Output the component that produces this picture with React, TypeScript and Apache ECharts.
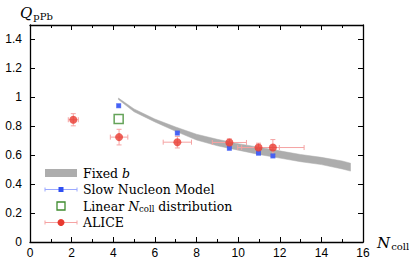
import React, { useEffect, useRef } from "react";
import * as echarts from "echarts";

const bandX = [4.25, 5, 6, 7, 8, 9, 10, 11, 12, 13, 14, 15, 15.4];
const bandLo = [0.985, 0.9, 0.83, 0.765, 0.705, 0.665, 0.635, 0.605, 0.58, 0.555, 0.535, 0.505, 0.49];
const bandHi = [0.995, 0.92, 0.85, 0.795, 0.745, 0.71, 0.68, 0.655, 0.63, 0.605, 0.585, 0.56, 0.545];

const aliceX = [2.08, 4.28, 7.08, 9.58, 10.98, 11.67];
const aliceY = [0.845, 0.725, 0.69, 0.688, 0.653, 0.653];
const aliceXErr = [0.24, 0.42, 0.68, 0.82, 1.0, 1.5];
const aliceYErr = [0.042, 0.054, 0.04, 0.025, 0.03, 0.055];

const snmX = [4.26, 7.08, 9.58, 10.98, 11.67];
const snmY = [0.942, 0.753, 0.648, 0.614, 0.595];
const snmXErr = [0.05, 0.05, 0.05, 0.05, 0.05];
const snmYErr = [0.008, 0.01, 0.01, 0.01, 0.01];

const linX = [4.26];
const linY = [0.85];

const yTicks = [0, 0.2, 0.4, 0.6, 0.8, 1, 1.2, 1.4];

const serif = "'DejaVu Serif', 'Liberation Serif', serif";
const sans = "'Liberation Sans', Arial, sans-serif";

function errRender(color: string, cap: number) {
  return (params: any, api: any) => {
    const x = api.value(0), y = api.value(1), ex = api.value(2), ey = api.value(3);
    const l = api.coord([x - ex, y]);
    const r = api.coord([x + ex, y]);
    const t = api.coord([x, y + ey]);
    const b = api.coord([x, y - ey]);
    const st = { stroke: color, lineWidth: 1 };
    return {
      type: "group",
      children: [
        { type: "line", shape: { x1: l[0], y1: l[1], x2: r[0], y2: r[1] }, style: st },
        { type: "line", shape: { x1: t[0], y1: t[1], x2: b[0], y2: b[1] }, style: st },
        { type: "line", shape: { x1: l[0], y1: l[1] - cap, x2: l[0], y2: l[1] + cap }, style: st },
        { type: "line", shape: { x1: r[0], y1: r[1] - cap, x2: r[0], y2: r[1] + cap }, style: st },
        { type: "line", shape: { x1: t[0] - cap, y1: t[1], x2: t[0] + cap, y2: t[1] }, style: st },
        { type: "line", shape: { x1: b[0] - cap, y1: b[1], x2: b[0] + cap, y2: b[1] }, style: st },
      ],
    };
  };
}

function bandRender(params: any, api: any) {
  const top = bandX.map((x, i) => api.coord([x, bandHi[i]]));
  const bot = bandX.map((x, i) => api.coord([x, bandLo[i]])).reverse();
  return {
    type: "polygon",
    shape: { points: top.concat(bot) },
    style: { fill: "#adadad", stroke: "#adadad", lineWidth: 0.5 },
  };
}

export default function App() {
  const ref = useRef<HTMLDivElement>(null);
  useEffect(() => {
    const chart = echarts.init(ref.current!, null, { renderer: "svg" });
    const axisCommon = {
      type: "value" as const,
      axisLine: { show: true, onZero: false, lineStyle: { color: "#000", width: 1.3 } },
      axisTick: { show: true, inside: true, length: 5, lineStyle: { color: "#000", width: 1 } },
      minorTick: { show: true, splitNumber: 2, length: 3, lineStyle: { color: "#000", width: 1 } },
      splitLine: { show: false },
    };
    const legendY = [173, 189.5, 206, 222.5];
    const lx1 = 45, lx2 = 77, lxm = 61, tx = 83;
    const fs = 12.5;
    chart.setOption({
      animation: false,
      grid: { left: 30, right: 46, top: 25, bottom: 19 },
      xAxis: [
        {
          ...axisCommon,
          min: 0, max: 16, interval: 2,
          axisLabel: { show: true, color: "#000", fontFamily: sans, fontSize: 12, margin: 5 },
        },
        {
          ...axisCommon, position: "top",
          min: 0, max: 16, interval: 2,
          axisLabel: { show: false },
        },
      ],
      yAxis: [
        {
          ...axisCommon,
          min: 0, max: 1.5, interval: 0.2,
          minorTick: { show: false },
          axisLabel: {
            show: true, color: "#000", fontFamily: sans, fontSize: 12, margin: 8,
            formatter: (v: number) => (yTicks.some((t) => Math.abs(t - v) < 1e-6) ? String(Math.round(v * 10) / 10) : ""),
          },
        },
        {
          ...axisCommon, position: "right",
          min: 0, max: 1.5, interval: 0.2,
          minorTick: { show: false },
          axisLabel: { show: false },
        },
      ],
      series: [
        {
          type: "custom", silent: true,
          renderItem: bandRender,
          data: [[bandX[0], bandLo[0]]],
          encode: { x: 0, y: 1 },
          z: 1,
        },
        {
          type: "custom",
          renderItem: errRender("#f5a3a3", 2.5),
          data: aliceX.map((x, i) => [x, aliceY[i], aliceXErr[i], aliceYErr[i]]),
          encode: { x: 0, y: 1 },
          z: 3,
        },
        {
          type: "custom",
          renderItem: errRender("#9aa8ff", 1.5),
          data: snmX.map((x, i) => [x, snmY[i], snmXErr[i], snmYErr[i]]),
          encode: { x: 0, y: 1 },
          z: 3,
        },
        {
          type: "scatter", symbol: "rect", symbolSize: 5,
          data: snmX.map((x, i) => [x, snmY[i]]),
          itemStyle: { color: "#2f4ff2" }, z: 4,
        },
        {
          type: "scatter", symbol: "rect", symbolSize: 9,
          data: linX.map((x, i) => [x, linY[i]]),
          itemStyle: { color: "rgba(0,0,0,0)", borderColor: "#3f8c2f", borderWidth: 1.5 }, z: 4,
        },
        {
          type: "scatter", symbol: "circle", symbolSize: 8,
          data: aliceX.map((x, i) => [x, aliceY[i]]),
          itemStyle: { color: "#e8392f" }, z: 5,
        },
      ],
      graphic: [
        {
          type: "text", left: 20, top: 4,
          style: {
            text: "{q|Q}{s|pPb}",
            rich: {
              q: { fontFamily: serif, fontStyle: "italic", fontSize: 15, fill: "#000", lineHeight: 18 },
              s: { fontFamily: serif, fontSize: 10, fill: "#000", padding: [7, 0, 0, 1], lineHeight: 18 },
            },
          },
        },
        {
          type: "text", left: 377, top: 234,
          style: {
            text: "{q|N}{s|coll}",
            rich: {
              q: { fontFamily: serif, fontStyle: "italic", fontSize: 15, fill: "#000", lineHeight: 18 },
              s: { fontFamily: serif, fontSize: 10, fill: "#000", padding: [7, 0, 0, 1], lineHeight: 18 },
            },
          },
        },
        { type: "rect", shape: { x: lx1, y: legendY[0] - 4, width: lx2 - lx1, height: 8 }, style: { fill: "#adadad" } },
        {
          type: "text", x: tx, y: legendY[0], style: {
            text: "{a|Fixed }{b|b}", verticalAlign: "middle",
            rich: {
              a: { fontFamily: serif, fontSize: fs, fill: "#000", lineHeight: 14 },
              b: { fontFamily: serif, fontStyle: "italic", fontSize: fs, fill: "#000", lineHeight: 14 },
            },
          },
        },
        { type: "line", shape: { x1: lx1, y1: legendY[1], x2: lx2, y2: legendY[1] }, style: { stroke: "#9aa8ff", lineWidth: 1 } },
        { type: "line", shape: { x1: lx1, y1: legendY[1] - 2, x2: lx1, y2: legendY[1] + 2 }, style: { stroke: "#9aa8ff", lineWidth: 1 } },
        { type: "line", shape: { x1: lx2, y1: legendY[1] - 2, x2: lx2, y2: legendY[1] + 2 }, style: { stroke: "#9aa8ff", lineWidth: 1 } },
        { type: "rect", shape: { x: lxm - 2.5, y: legendY[1] - 2.5, width: 5, height: 5 }, style: { fill: "#2f4ff2" } },
        {
          type: "text", x: tx, y: legendY[1], style: {
            text: "Slow Nucleon Model", verticalAlign: "middle", fontFamily: serif, fontSize: fs, fill: "#000", lineHeight: 14,
          },
        },
        { type: "rect", shape: { x: lxm - 4, y: legendY[2] - 4, width: 8, height: 8 }, style: { fill: "none", stroke: "#3f8c2f", lineWidth: 1.3 } },
        {
          type: "text", x: tx, y: legendY[2], style: {
            text: "{a|Linear }{n|N}{s|coll}{a| distribution}", verticalAlign: "middle",
            rich: {
              a: { fontFamily: serif, fontSize: fs, fill: "#000", lineHeight: 14 },
              n: { fontFamily: serif, fontStyle: "italic", fontSize: fs, fill: "#000", lineHeight: 14 },
              s: { fontFamily: serif, fontSize: 8.5, fill: "#000", padding: [5, 0, 0, 0], lineHeight: 14 },
            },
          },
        },
        { type: "line", shape: { x1: lx1, y1: legendY[3], x2: lx2, y2: legendY[3] }, style: { stroke: "#f5a3a3", lineWidth: 1 } },
        { type: "line", shape: { x1: lx1, y1: legendY[3] - 2, x2: lx1, y2: legendY[3] + 2 }, style: { stroke: "#f5a3a3", lineWidth: 1 } },
        { type: "line", shape: { x1: lx2, y1: legendY[3] - 2, x2: lx2, y2: legendY[3] + 2 }, style: { stroke: "#f5a3a3", lineWidth: 1 } },
        { type: "circle", shape: { cx: lxm, cy: legendY[3], r: 3.5 }, style: { fill: "#e8392f" } },
        {
          type: "text", x: tx, y: legendY[3], style: {
            text: "ALICE", verticalAlign: "middle", fontFamily: serif, fontSize: fs, fill: "#000", lineHeight: 14,
          },
        },
      ],
    });
    return () => chart.dispose();
  }, []);
  return <div ref={ref} style={{ width: 409, height: 261, position: "absolute", left: 0, top: 0 }} />;
}
